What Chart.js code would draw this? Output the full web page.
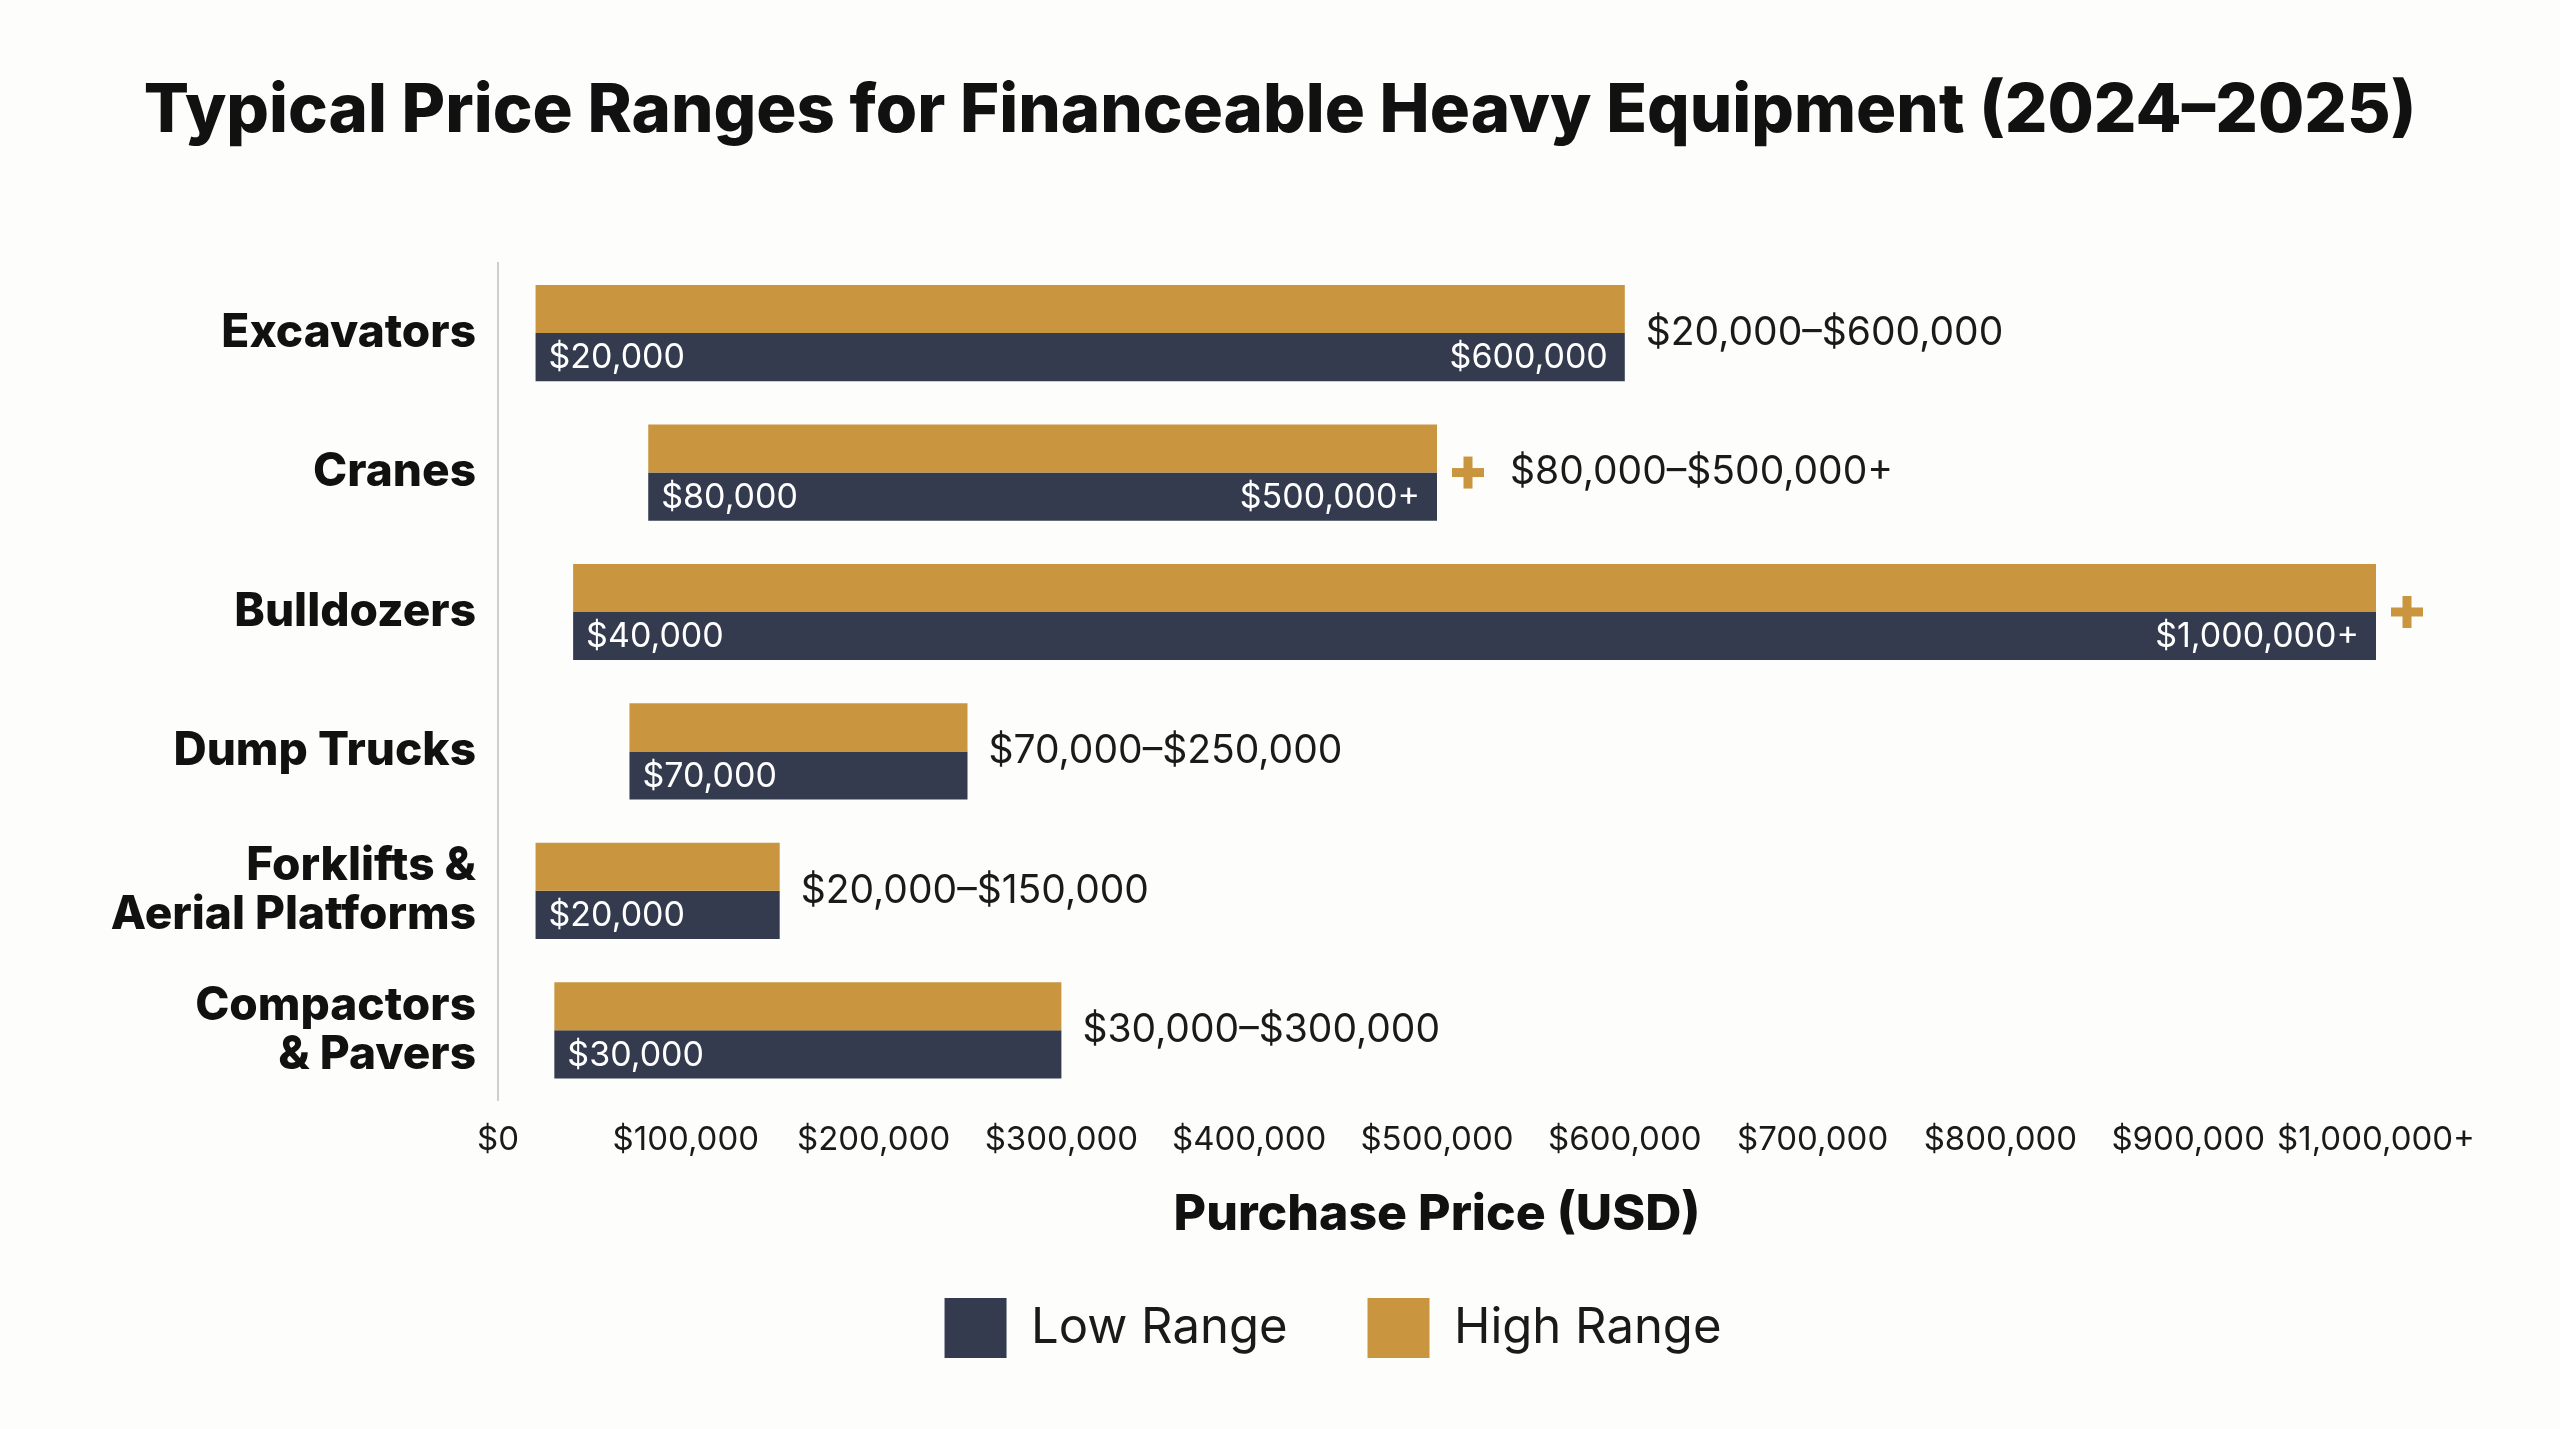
<!DOCTYPE html>
<html>
<head>
<meta charset="utf-8">
<script src="https://cdn.jsdelivr.net/npm/chart.js@4.4.1/dist/chart.umd.min.js"></script>
<style>
  html, body { margin: 0; padding: 0; background: #fdfdfb; }
  #wrap { width: 2560px; height: 1429px; }
</style>
</head>
<body>
<div id="wrap"><canvas id="c" width="2560" height="1429"></canvas></div>
<script>
// ---- Data ----
const categories = ['Excavators', 'Cranes', 'Bulldozers', 'Dump Trucks', ['Forklifts &', 'Aerial Platforms'], ['Compactors', '& Pavers']];
const lowValues = [20000, 80000, 40000, 70000, 20000, 30000];
const highValues = [600000, 500000, 1000000, 250000, 150000, 300000];
const openEnded = [false, true, true, false, false, false];
const showEndLabel = [true, true, true, false, false, false];
const showRangeLabel = [true, true, false, true, true, true];
const tickValues = [0, 100000, 200000, 300000, 400000, 500000, 600000, 700000, 800000, 900000, 1000000];
const seriesNames = ['Low Range', 'High Range'];

const NAVY = '#343b4f';
const GOLD = '#c9963f';
const FONT = 'Inter, "Open Sans", sans-serif';

const fmt = v => '$' + v.toLocaleString('en-US');
const ranges = lowValues.map((l, i) => [l, highValues[i]]);

const bgPlugin = {
  id: 'bg',
  beforeDraw(chart) {
    const ctx = chart.ctx;
    ctx.save();
    ctx.fillStyle = '#fdfdfb';
    ctx.fillRect(0, 0, chart.width, chart.height);
    ctx.restore();
  }
};

// shift the legend block slightly right, as in the reference
const legendShift = {
  id: 'legendShift',
  afterLayout(chart) {
    if (chart.legend) {
      chart.legend.left += 53;
      chart.legend.right += 53;
    }
  }
};

const labelPlugin = {
  id: 'rangeLabels',
  afterDatasetsDraw(chart) {
    const ctx = chart.ctx;
    const lowMeta = chart.getDatasetMeta(1);
    const yScale = chart.scales.y;
    ctx.save();
    lowMeta.data.forEach((bar, i) => {
      const left = Math.min(bar.x, bar.base);
      const right = Math.max(bar.x, bar.base);
      const yLow = bar.y + 1;
      ctx.fillStyle = '#ffffff';
      ctx.font = '400 34px ' + FONT;
      ctx.textBaseline = 'middle';
      ctx.textAlign = 'left';
      ctx.fillText(fmt(lowValues[i]), left + 13, yLow);
      if (showEndLabel[i]) {
        ctx.textAlign = 'right';
        ctx.fillText(fmt(highValues[i]) + (openEnded[i] ? '+' : ''), right - 17, yLow);
      }
      const yc = yScale.getPixelForValue(i);
      let x = right + 21;
      if (openEnded[i]) {
        const cx = right + 31, s = 16, t = 4.5;
        ctx.fillStyle = GOLD;
        ctx.fillRect(cx - s, yc - t, 2 * s, 2 * t);
        ctx.fillRect(cx - t, yc - s, 2 * t, 2 * s);
        x = right + 73;
      }
      if (showRangeLabel[i]) {
        ctx.fillStyle = '#1a1a1a';
        ctx.font = '400 39px ' + FONT;
        ctx.textAlign = 'left';
        ctx.fillText(fmt(lowValues[i]) + '\u2013' + fmt(highValues[i]) + (openEnded[i] ? '+' : ''), x, yc);
      }
    });
    ctx.restore();
  }
};

new Chart(document.getElementById('c'), {
  type: 'bar',
  data: {
    labels: categories,
    datasets: [
      { label: seriesNames[1], data: ranges, backgroundColor: GOLD, borderWidth: 0 },
      { label: seriesNames[0], data: ranges, backgroundColor: NAVY, borderWidth: 0 }
    ]
  },
  options: {
    indexAxis: 'y',
    responsive: false,
    animation: false,
    devicePixelRatio: 1,
    categoryPercentage: 0.69,
    barPercentage: 1.0,
    layout: { padding: { left: 0, right: 0, top: 0, bottom: 61 } },
    plugins: {
      title: {
        display: true,
        text: 'Typical Price Ranges for Financeable Heavy Equipment (2024\u20132025)',
        color: '#111111',
        font: { family: FONT, size: 67, weight: '800' },
        padding: { top: 72, bottom: 111 }
      },
      legend: {
        display: true,
        position: 'bottom',
        reverse: true,
        labels: {
          color: '#1a1a1a',
          font: { family: FONT, size: 49, weight: '400' },
          boxWidth: 62,
          boxHeight: 60,
          padding: 80
        }
      },
      tooltip: { enabled: false }
    },
    scales: {
      x: {
        type: 'linear',
        min: 0,
        max: 1000000,
        afterBuildTicks(scale) { scale.ticks = tickValues.map(v => ({ value: v })); },
        afterFit(scale) { scale.height = 118; scale.paddingRight = 184; },
        grid: { display: false, drawTicks: false },
        border: { display: false },
        ticks: {
          autoSkip: false,
          maxRotation: 0,
          padding: 20,
          color: '#1a1a1a',
          font: { family: FONT, size: 33 },
          callback: v => v === 1000000 ? fmt(v) + '+' : fmt(v)
        },
        title: {
          display: true,
          text: 'Purchase Price (USD)',
          color: '#111111',
          font: { family: FONT, size: 50, weight: '800' },
          padding: { top: 0, bottom: -27 }
        }
      },
      y: {
        grid: { display: false, drawTicks: false },
        border: { display: true, color: '#cfcfcf', width: 2 },
        afterFit(scale) { scale.width = 498; },
        ticks: {
          padding: 22,
          color: '#111111',
          font: { family: FONT, size: 46, weight: '800', lineHeight: 1.07 }
        }
      }
    }
  },
  plugins: [bgPlugin, legendShift, labelPlugin]
});
</script>
</body>
</html>
